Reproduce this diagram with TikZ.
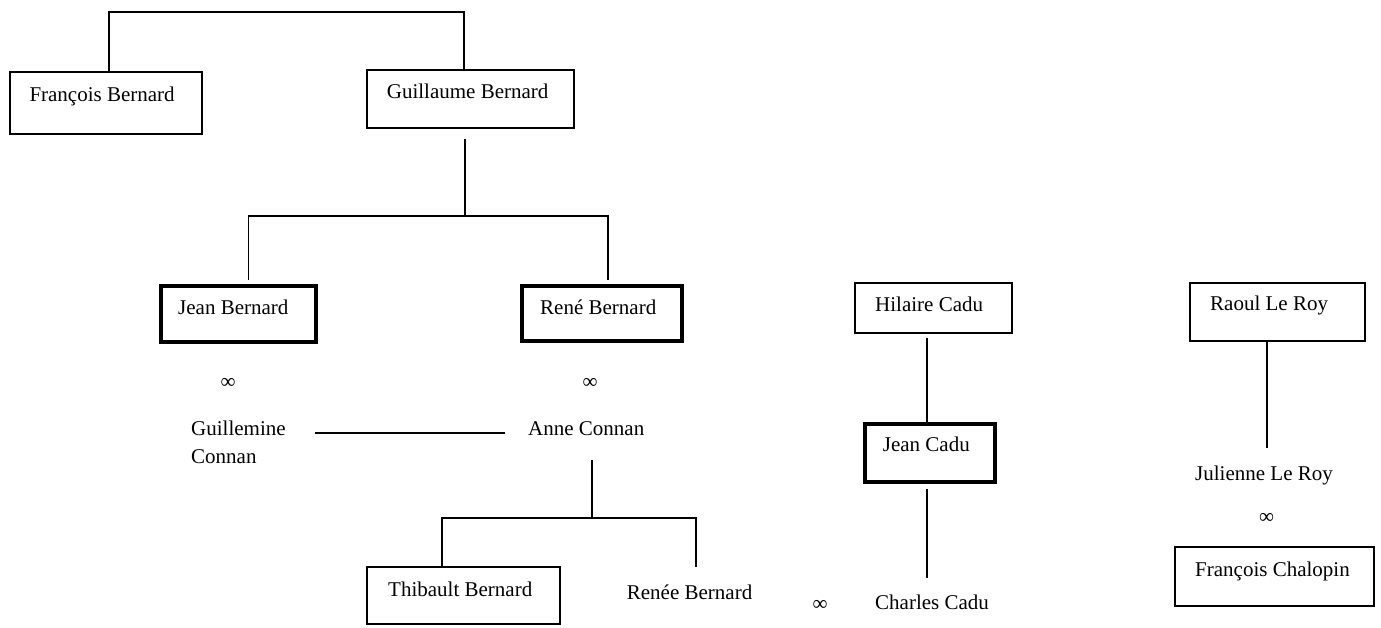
\documentclass[tikz,border=0pt]{standalone}
\usepackage{fontspec}
\setmainfont{Liberation Serif}
\usetikzlibrary{calc}
\newcommand\famsz{\fontsize{21pt}{28pt}\selectfont}
\begin{document}
\begin{tikzpicture}[x=1pt,y=-1pt,
  box/.style={draw, line width=2pt, inner sep=0pt, anchor=north west},
  thickbox/.style={draw, line width=4.2pt, inner sep=0pt, anchor=north west},
  lbl/.style={anchor=base west, inner sep=0pt, font=\famsz},
  marr/.style={anchor=center, inner sep=0pt, font=\famsz},
  conn/.style={line width=1.9pt}]
\useasboundingbox (0,0) rectangle (1381,628);
% boxes
\node[box, minimum width=192pt, minimum height=62pt] (fb) at (8.5,71) {};
\node[box, minimum width=207pt, minimum height=58pt] (gb) at (365.5,69) {};
\node[thickbox, minimum width=155pt, minimum height=56pt] (jb) at (159,284) {};
\node[thickbox, minimum width=160pt, minimum height=55pt] (rb) at (520,284) {};
\node[box, minimum width=157pt, minimum height=49pt] (hc) at (854,282.5) {};
\node[thickbox, minimum width=130pt, minimum height=58pt] (jc) at (862.7,422) {};
\node[box, minimum width=175pt, minimum height=57pt] (rlr) at (1189,282.5) {};
\node[box, minimum width=199pt, minimum height=59pt] (fc) at (1174,546) {};
\node[box, minimum width=193pt, minimum height=57pt] (tb) at (366,566) {};
% texts in boxes
\node[lbl] (tfb) at (29.3,101.5) {François Bernard};
\node[lbl] (tgb) at (386.7,98.5) {Guillaume Bernard};
\node[lbl] (tjb) at (178,314) {Jean Bernard};
\node[lbl] (trb) at (540,314) {René Bernard};
\node[lbl] (thc) at (875,311.5) {Hilaire Cadu};
\node[lbl] (tjc) at (882.7,451.5) {Jean Cadu};
\node[lbl] (trlr) at (1210,310) {Raoul Le Roy};
\node[lbl] (tfc) at (1195,576.5) {François Chalopin};
\node[lbl] (ttb) at (388,596.5) {Thibault Bernard};
% free texts
\node[lbl] (gc) at (191,435) {\begin{tabular}[t]{@{}l@{}}Guillemine\\Connan\end{tabular}};
\node[lbl] (ac) at (528,435) {Anne Connan};
\node[lbl] (reb) at (626.7,599) {Renée Bernard};
\node[lbl] (cc) at (875,609) {Charles Cadu};
\node[lbl] (jlr) at (1195,480) {Julienne Le Roy};
\node[marr] (m1) at (228,383) {∞};
\node[marr] (m2) at (590,383) {∞};
\node[marr] (m3) at (820,605) {∞};
\node[marr] (m4) at (1266.7,518.3) {∞};
% coordinates
\coordinate (t1) at (109,11.7);
\coordinate (t2) at (464.3,11.7);
\coordinate (g1) at (464.8,139);
\coordinate (g2) at (464.8,215.7);
\coordinate (gl) at (248.5,215.7);
\coordinate (gr) at (607.8,215.7);
\coordinate (gle) at (248.5,280);
\coordinate (gre) at (607.8,280);
\coordinate (ma) at (315,433);
\coordinate (mb) at (505,433);
\coordinate (a1) at (591.7,460);
\coordinate (a2) at (591.7,518.3);
\coordinate (al) at (442.3,518.3);
\coordinate (ar) at (695.7,518.3);
\coordinate (are) at (695.7,566.7);
\coordinate (h1) at (926.7,337.7);
\coordinate (j1) at (927,489.3);
\coordinate (j2) at (927,578.3);
\coordinate (r2) at (1267.3,448.3);
% connectors
\draw[conn] (fb.north -| t1) -- (t1) -- (t2) -- (gb.north -| t2);
\draw[conn] (g1) -- (g2);
\draw[conn] (gle) -- (gl) -- (gr) -- (gre);
\draw[conn] (ma) -- (mb);
\draw[conn] (a1) -- (a2);
\draw[conn] (tb.north -| al) -- (al) -- (ar) -- (are);
\draw[conn] (h1) -- (jc.north -| h1);
\draw[conn] (j1) -- (j2);
\draw[conn] (rlr.south -| r2) -- (r2);
\end{tikzpicture}
\end{document}
